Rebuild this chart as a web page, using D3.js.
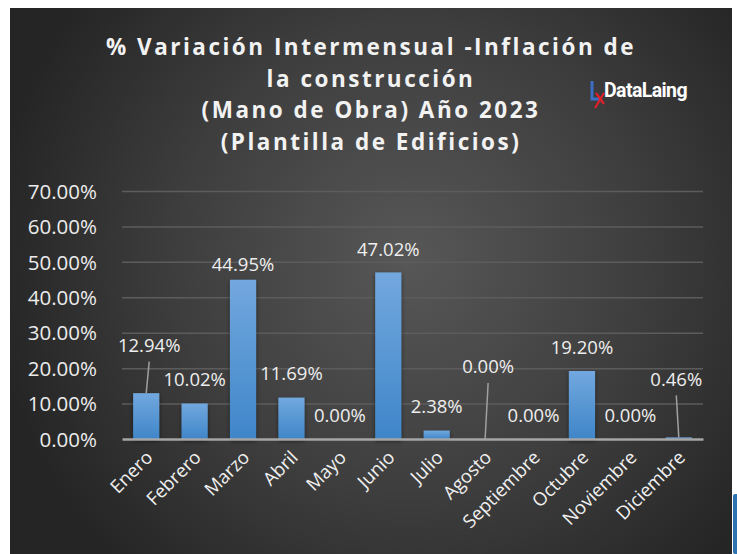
<!DOCTYPE html>
<html>
<head>
<meta charset="utf-8">
<script src="https://cdn.jsdelivr.net/npm/d3@7"></script>
<style>
  body { margin: 0; background: #ffffff; }
  svg { display: block; }
</style>
</head>
<body>
<div id="chart-div"></div>
<script>
// data
const months = ["Enero", "Febrero", "Marzo", "Abril", "Mayo", "Junio", "Julio",
  "Agosto", "Septiembre", "Octubre", "Noviembre", "Diciembre"];
const values = [12.94, 10.02, 44.95, 11.69, 0.00, 47.02, 2.38, 0.00, 0.00, 19.20, 0.00, 0.46];
const yTicks = [0, 10, 20, 30, 40, 50, 60, 70];
const titleLines = ["% Variación Intermensual -Inflación de", "la construcción",
  "(Mano de Obra) Año 2023", "(Plantilla de Edificios)"];

// label nudges (px) relative to the default spot above each bar
const labelDx = [3, 0, 0, 0, 0, 0, 0, 3, 0, 0, 0, -2.5];
const labelDy = [-47.5, -23.5, -15, -23.6, -23, -22.6, -23.6, -72, -23, -23, -23, -58];

const W = 737, H = 554;
const plot = {left: 122, right: 703, top: 191, bottom: 439};

const svg = d3.select("#chart-div")
  .append("svg")
  .attr("width", W)
  .attr("height", H);

const defs = svg.append("defs");

const bg = defs.append("radialGradient")
  .attr("id", "bgGrad")
  .attr("gradientUnits", "userSpaceOnUse")
  .attr("cx", 410).attr("cy", 260).attr("r", 420);
bg.append("stop").attr("offset", "0%").attr("stop-color", "#575757");
bg.append("stop").attr("offset", "55%").attr("stop-color", "#3e3e3e");
bg.append("stop").attr("offset", "100%").attr("stop-color", "#252525");

const barGrad = defs.append("linearGradient")
  .attr("id", "barGrad")
  .attr("x1", 0).attr("y1", 0).attr("x2", 0).attr("y2", 1);
barGrad.append("stop").attr("offset", "0%").attr("stop-color", "#72a8de");
barGrad.append("stop").attr("offset", "100%").attr("stop-color", "#3f86c9");

const shadow = defs.append("filter")
  .attr("id", "barShadow")
  .attr("x", "-30%").attr("y", "-10%").attr("width", "160%").attr("height", "130%");
shadow.append("feDropShadow")
  .attr("dx", 0).attr("dy", 2).attr("stdDeviation", 2)
  .attr("flood-color", "#000").attr("flood-opacity", 0.5);

// background panel
svg.append("rect")
  .attr("x", 10).attr("y", 8)
  .attr("width", 722).attr("height", H - 8)
  .attr("fill", "url(#bgGrad)");

// sliver of the next object at the right edge
svg.append("rect")
  .attr("x", 733).attr("y", 494)
  .attr("width", 6).attr("height", 60)
  .attr("rx", 2)
  .attr("fill", "#2f72b0");

// title
const title = svg.append("text")
  .attr("text-anchor", "middle")
  .attr("font-family", "'Open Sans', sans-serif")
  .attr("font-weight", "bold")
  .attr("font-size", 22.5)
  .attr("letter-spacing", 2.5)
  .attr("fill", "#f2f2f2");
titleLines.forEach((t, i) => {
  title.append("tspan")
    .attr("x", 371)
    .attr("y", 55 + i * 31.5)
    .text(t);
});

// watermark logo
const logo = svg.append("g").attr("transform", "translate(592, 99)");
logo.append("path")
  .attr("d", "M0,-18 L0,0 L9,0")
  .attr("fill", "none").attr("stroke", "#3b6fc4").attr("stroke-width", 3);
logo.append("path")
  .attr("d", "M4,-6 L12,5 M12,-6 L3,9")
  .attr("fill", "none").attr("stroke", "#e0202a").attr("stroke-width", 2.2);
logo.append("text")
  .attr("x", 12).attr("y", -2)
  .attr("font-family", "Roboto, sans-serif")
  .attr("font-weight", "bold")
  .attr("font-size", 19.5)
  .attr("letter-spacing", -0.6)
  .attr("fill", "#ffffff")
  .text("DataLaing");

// scales
const x = d3.scaleBand()
  .domain(months)
  .range([plot.left, plot.right])
  .paddingInner(0.46)
  .paddingOuter(0.23);

const y = d3.scaleLinear()
  .domain([0, 70])
  .range([plot.bottom, plot.top]);

// gridlines
svg.append("g")
  .attr("transform", `translate(${plot.left},0)`)
  .call(d3.axisLeft(y).tickValues(yTicks.slice(1)).tickSize(-(plot.right - plot.left)).tickFormat(""))
  .call(g => g.select(".domain").remove())
  .call(g => g.selectAll("line").attr("stroke", "#5c5c5c").attr("stroke-width", 1.5));

// y axis labels
svg.append("g")
  .attr("transform", `translate(${plot.left - 22},0)`)
  .call(d3.axisLeft(y).tickValues(yTicks).tickSize(0).tickFormat(d => d.toFixed(2) + "%"))
  .call(g => g.select(".domain").remove())
  .call(g => g.selectAll("text")
    .attr("font-family", "'Open Sans', sans-serif")
    .attr("font-size", 20.5)
    .attr("fill", "#ececec")
    .attr("dy", "0.35em"));

// bars
svg.append("g")
  .selectAll("rect")
  .data(values)
  .join("rect")
  .attr("x", (d, i) => x(months[i]))
  .attr("y", d => y(d))
  .attr("width", x.bandwidth())
  .attr("height", d => y(0) - y(d))
  .attr("fill", "url(#barGrad)")
  .attr("filter", "url(#barShadow)");

// x axis line
svg.append("g")
  .attr("transform", `translate(0,${plot.bottom})`)
  .call(d3.axisBottom(x).tickSize(0).tickFormat(""))
  .call(g => g.select(".domain").attr("stroke", "#a6a6a6").attr("stroke-width", 2.5));

// x axis labels
svg.append("g")
  .selectAll("text")
  .data(months)
  .join("text")
  .attr("transform", d => `translate(${x(d) + x.bandwidth() / 2 + 3},${plot.bottom + 15}) rotate(-45)`)
  .attr("text-anchor", "end")
  .attr("dy", "0.35em")
  .attr("font-family", "'Open Sans', sans-serif")
  .attr("font-size", 18.5)
  .attr("fill", "#f0f0f0")
  .text(d => d);

// leader lines for labels moved away from their bars
svg.append("g")
  .selectAll("line")
  .data(values.map((v, i) => ({v: v, i: i})).filter(d => labelDy[d.i] < -40))
  .join("line")
  .attr("x1", d => x(months[d.i]) + x.bandwidth() / 2 + labelDx[d.i])
  .attr("y1", d => y(d.v) + labelDy[d.i] + 16)
  .attr("x2", d => x(months[d.i]) + x.bandwidth() / 2)
  .attr("y2", d => y(d.v))
  .attr("stroke", "#a0a0a0")
  .attr("stroke-width", 1.5);

// data labels
svg.append("g")
  .selectAll("text")
  .data(values)
  .join("text")
  .attr("x", (d, i) => x(months[i]) + x.bandwidth() / 2 + labelDx[i])
  .attr("y", (d, i) => y(d) + labelDy[i])
  .attr("dy", "0.35em")
  .attr("text-anchor", "middle")
  .attr("font-family", "'Open Sans', sans-serif")
  .attr("font-size", 18.5)
  .attr("fill", "#eeeeee")
  .text(d => d.toFixed(2) + "%");
</script>
</body>
</html>
